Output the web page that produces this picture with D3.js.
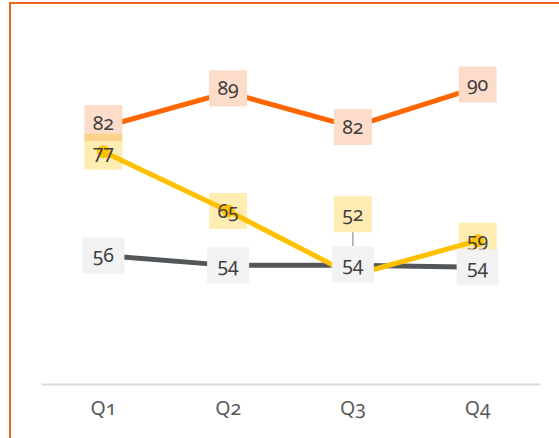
<!DOCTYPE html>
<html>
<head>
<meta charset="utf-8">
<script src="https://cdn.jsdelivr.net/npm/d3@7"></script>
<style>
    body { margin: 0; background: #fff; }
    svg text { font-family: "Noto Sans", "Lato", sans-serif; font-variant-numeric: oldstyle-nums; font-feature-settings: "onum"; }
</style>
</head>
<body>
<svg id="chart" width="559" height="438"></svg>
<script>
// data
var quarters = ["Q1", "Q2", "Q3", "Q4"];
var orangeValues = [82, 89, 82, 90];
var yellowValues = [77, 65, 52, 59];
var grayValues = [56, 54, 54, 53.6];
var grayLabels = ["56", "54", "54", "54"];

var svg = d3.select("#chart");

// orange frame
svg.append("rect")
    .attr("x", 10)
    .attr("y", 3)
    .attr("width", 600)
    .attr("height", 500)
    .attr("fill", "none")
    .attr("stroke", "#ea6419")
    .attr("stroke-width", 2)

var x = d3.scaleBand()
    .domain(quarters)
    .range([41, 540])

var y = d3.scaleLinear()
    .domain([30, 100])
    .range([384, 38])

function cx(d, i) { return x(quarters[i]) + x.bandwidth() / 2; }

// x axis
var xAxis = svg.append("g")
    .attr("transform", "translate(0,384)")
    .call(d3.axisBottom(x).tickSize(0).tickPadding(17))
xAxis.select(".domain").attr("stroke", "#d9d9d9").attr("stroke-width", 2)
xAxis.selectAll("text")
    .attr("fill", "#595959")
    .style("font-size", "19.5px")

var series = [
    { name: "gray", values: grayValues, labels: grayLabels, color: "#53575a", box: "#f2f2f2", boxOpacity: 1, boxW: 42, marker: false },
    { name: "yellow", values: yellowValues, labels: yellowValues.map(String), color: "#ffc000", box: "#ffc000", boxOpacity: 0.3, boxW: 38, marker: true },
    { name: "orange", values: orangeValues, labels: orangeValues.map(String), color: "#ff6600", box: "#fddcc9", boxOpacity: 1, boxW: 38, marker: false }
];

var line = d3.line()
    .x(cx)
    .y(function (d) { return y(d); })

series.forEach(function (s) {
    svg.append("path")
        .datum(s.values)
        .attr("d", line)
        .attr("fill", "none")
        .attr("stroke", s.color)
        .attr("stroke-width", 5)

    if (s.marker) {
        svg.selectAll(".m-" + s.name)
            .data(s.values)
            .enter().append("circle")
            .attr("cx", cx)
            .attr("cy", function (d) { return y(d); })
            .attr("r", 6.5)
            .attr("fill", s.color)
    }
})

// label shifts (the yellow Q3 label is moved up with a leader line)
var shift = { "orange": [-4, -4, 0, -3], "yellow": [0, 0, -61, 0], "gray": [0, 0, -1, 0] };

// leader line for the moved label
svg.append("line")
    .attr("x1", cx(null, 2))
    .attr("x2", cx(null, 2))
    .attr("y1", y(yellowValues[2]) + shift.yellow[2] + 18)
    .attr("y2", y(grayValues[2]) - 19)
    .attr("stroke", "#a6a6a6")
    .attr("stroke-width", 1.5)

var labelOrder = [series[2], series[1], series[0]];
labelOrder.forEach(function (s) {
    var g = svg.selectAll(".l-" + s.name)
        .data(s.values)
        .enter().append("g")
        .attr("transform", function (d, i) {
            return "translate(" + cx(d, i) + "," + (y(d) + shift[s.name][i]) + ")";
        })

    g.append("rect")
        .attr("x", -s.boxW / 2)
        .attr("y", -18)
        .attr("width", s.boxW)
        .attr("height", 36)
        .attr("fill", s.box)
        .attr("fill-opacity", s.boxOpacity)

    g.append("text")
        .attr("text-anchor", "middle")
        .attr("dy", "0.35em")
        .attr("fill", "#404040")
        .style("font-size", "19.5px")
        .text(function (d, i) { return s.labels[i]; })
})
</script>
</body>
</html>
